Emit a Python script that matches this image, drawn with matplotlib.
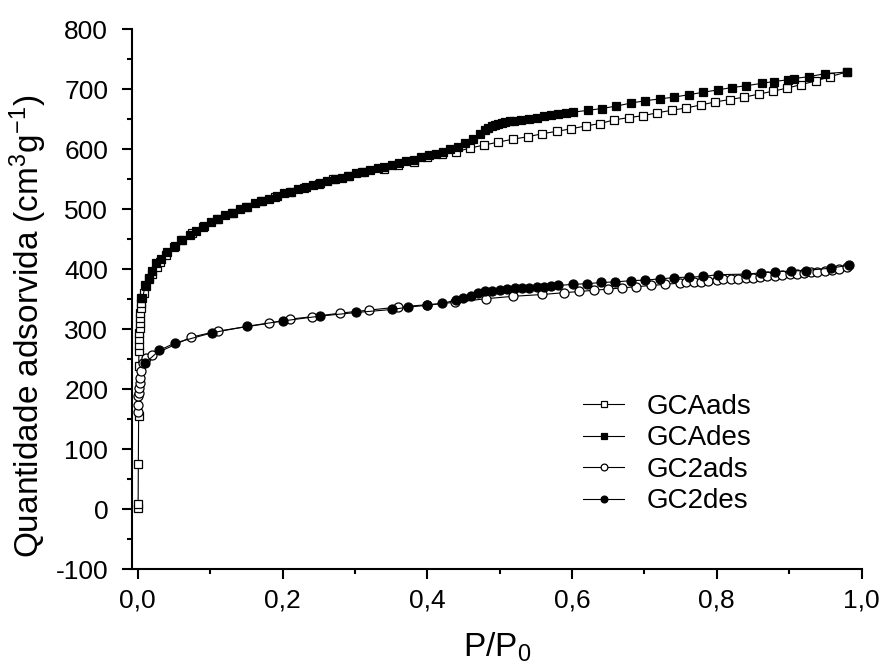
import matplotlib
matplotlib.use("Agg")
import matplotlib.pyplot as plt
from matplotlib.ticker import MultipleLocator, FuncFormatter

plt.rcParams['font.family'] = ['Liberation Sans', 'DejaVu Sans']
plt.rcParams['mathtext.default'] = 'regular'
plt.rcParams['axes.unicode_minus'] = False

# GCA adsorption (open squares)
gca_ads_x = [0.0003, 0.0005, 0.0008, 0.0012, 0.0014, 0.0016, 0.0018, 0.002, 0.0023, 0.0026,
             0.003, 0.0034, 0.0037, 0.004, 0.0045, 0.005, 0.008, 0.012, 0.016, 0.020,
             0.026, 0.031, 0.039, 0.05, 0.06, 0.075, 0.09, 0.11, 0.13, 0.15,
             0.17, 0.19, 0.21, 0.23, 0.25, 0.27, 0.29, 0.31, 0.34, 0.36,
             0.381, 0.399, 0.420, 0.440, 0.459, 0.478, 0.498, 0.519, 0.539, 0.559,
             0.579, 0.598, 0.619, 0.639, 0.658, 0.679, 0.698, 0.718, 0.738, 0.758,
             0.778, 0.798, 0.818, 0.838, 0.858, 0.878, 0.897, 0.917, 0.937, 0.956, 0.980]
gca_ads_y = [2, 8, 75, 155, 239, 264, 274, 283, 293, 302,
             310, 318, 327, 335, 343, 352, 360, 372, 383, 393,
             404, 413, 424, 438, 449, 461, 470, 484, 494, 504,
             514, 521, 529, 536, 543, 550, 556, 563, 568, 574,
             579, 587, 592, 596, 602, 607, 612, 617, 621, 626,
             630, 634, 639, 643, 649, 653, 656, 661, 665, 669,
             674, 679, 683, 687, 692, 697, 702, 708, 714, 721, 729]

# GCA desorption (filled squares)
gca_des_x = [0.980, 0.949, 0.927, 0.906, 0.899, 0.879, 0.862, 0.841, 0.821, 0.801,
             0.781, 0.761, 0.741, 0.721, 0.701, 0.681, 0.661, 0.641, 0.622, 0.602,
             0.591, 0.581, 0.571, 0.561, 0.551, 0.540, 0.530, 0.520, 0.514, 0.508,
             0.503, 0.498, 0.493, 0.489, 0.484, 0.480, 0.473, 0.463, 0.452, 0.442,
             0.432, 0.422, 0.412, 0.402, 0.392, 0.381, 0.371, 0.361, 0.351, 0.340,
             0.332, 0.321, 0.312, 0.302, 0.292, 0.282, 0.272, 0.262, 0.252, 0.242,
             0.232, 0.222, 0.212, 0.202, 0.192, 0.181, 0.172, 0.162, 0.151, 0.141,
             0.131, 0.121, 0.111, 0.101, 0.091, 0.081, 0.072, 0.061, 0.051, 0.041,
             0.0327, 0.0258, 0.0203, 0.0152, 0.0106, 0.0065]
gca_des_y = [729, 726, 721, 718, 716, 713, 710, 706, 703, 699,
             695, 691, 687, 684, 681, 677, 672, 668, 665, 662,
             661, 659, 657, 655, 653, 650, 649, 648, 647, 645,
             644, 642, 640, 639, 636, 632, 625, 617, 611, 604,
             600, 596, 593, 590, 587, 583, 580, 578, 574, 571,
             569, 565, 563, 560, 556, 553, 551, 548, 544, 541,
             538, 534, 529, 527, 523, 518, 514, 510, 504, 500,
             494, 491, 484, 479, 472, 464, 457, 449, 439, 429,
             418, 410, 398, 385, 374, 352]

# GC2 adsorption (open circles)
gc2_ads_x = [0.0005, 0.0008, 0.001, 0.0012, 0.0018, 0.0028, 0.0037, 0.005, 0.0073, 0.012,
             0.020, 0.074, 0.111, 0.181, 0.211, 0.241, 0.280, 0.320, 0.359, 0.400,
             0.439, 0.481, 0.519, 0.559, 0.589, 0.610, 0.630, 0.650, 0.669, 0.689,
             0.709, 0.729, 0.749, 0.758, 0.768, 0.778, 0.788, 0.800, 0.809, 0.820,
             0.830, 0.840, 0.850, 0.860, 0.870, 0.880, 0.890, 0.901, 0.911, 0.921,
             0.930, 0.939, 0.949, 0.959, 0.969, 0.980]
gc2_ads_y = [162, 174, 188, 194, 202, 211, 218, 231, 243, 252,
             257, 287, 297, 310, 317, 321, 327, 332, 337, 341,
             345, 351, 355, 358, 361, 363, 365, 367, 369, 371,
             373, 375, 377, 378, 378, 379, 380, 382, 383, 383,
             384, 385, 386, 387, 388, 389, 390, 392, 393, 394,
             395, 396, 397, 399, 401, 404]

# GC2 desorption (filled circles)
gc2_des_x = [0.983, 0.958, 0.923, 0.902, 0.881, 0.861, 0.840, 0.801, 0.781, 0.761,
             0.741, 0.721, 0.701, 0.681, 0.660, 0.640, 0.621, 0.601, 0.581, 0.571,
             0.561, 0.551, 0.541, 0.531, 0.521, 0.510, 0.500, 0.490, 0.480, 0.470,
             0.460, 0.450, 0.440, 0.421, 0.400, 0.374, 0.351, 0.302, 0.252, 0.201,
             0.151, 0.102, 0.051, 0.030, 0.0097]
gc2_des_y = [407, 402, 398, 397, 396, 394, 392, 391, 388, 387,
             386, 384, 382, 381, 379, 378, 376, 375, 373, 372,
             371, 370, 369, 368, 368, 367, 366, 364, 363, 360,
             355, 352, 349, 343, 340, 337, 333, 328, 322, 314,
             305, 294, 277, 265, 243]

fig = plt.figure(figsize=(8.83, 6.68), dpi=100)
ax = fig.add_axes([0.1492, 0.1478, 0.8265, 0.8083])

ms = 6.2
ax.plot(gca_ads_x, gca_ads_y, '-', color='k', lw=0.8, marker='s', ms=ms,
        mfc='white', mec='k', mew=0.9, label='GCAads')
ax.plot(gca_des_x, gca_des_y, '-', color='k', lw=0.8, marker='s', ms=ms,
        mfc='k', mec='k', mew=0.9, label='GCAdes')
ax.plot(gc2_ads_x, gc2_ads_y, '-', color='k', lw=0.8, marker='o', ms=ms + 0.3,
        mfc='white', mec='k', mew=0.9, label='GC2ads')
ax.plot(gc2_des_x, gc2_des_y, '-', color='k', lw=0.8, marker='o', ms=ms + 0.3,
        mfc='k', mec='k', mew=0.9, label='GC2des')

ax.set_xlim(-0.0083, 1.0)
ax.set_ylim(-100, 800)

ax.spines['top'].set_visible(False)
ax.spines['right'].set_visible(False)
for s in ('left', 'bottom'):
    ax.spines[s].set_linewidth(1.5)

ax.xaxis.set_major_locator(MultipleLocator(0.2))
ax.xaxis.set_minor_locator(MultipleLocator(0.1))
ax.yaxis.set_major_locator(MultipleLocator(100))
ax.yaxis.set_minor_locator(MultipleLocator(50))
ax.xaxis.set_major_formatter(FuncFormatter(lambda v, p: f"{v:.1f}".replace('.', ',')))
ax.tick_params(which='major', direction='out', length=7, width=1.5, labelsize=19)
ax.tick_params(axis='y', which='major', pad=10)
ax.tick_params(axis='x', which='major', pad=7)
ax.tick_params(which='minor', direction='out', length=3.5, width=1.5)

ax.set_xlabel('P/P$_0$', fontsize=24, labelpad=13)
ax.set_ylabel('Quantidade adsorvida (cm$^3$g$^{-1}$)', fontsize=24)
ax.yaxis.set_label_coords(-0.114, 0.45)

ax.legend(loc='upper left', bbox_to_anchor=(0.660, 0.4105), bbox_transform=fig.transFigure,
          frameon=False, fontsize=20, handlelength=1.5, markerscale=0.75,
          labelspacing=0.2, handletextpad=0.8, borderpad=0, borderaxespad=0)

fig.savefig('out.png', dpi=100)
